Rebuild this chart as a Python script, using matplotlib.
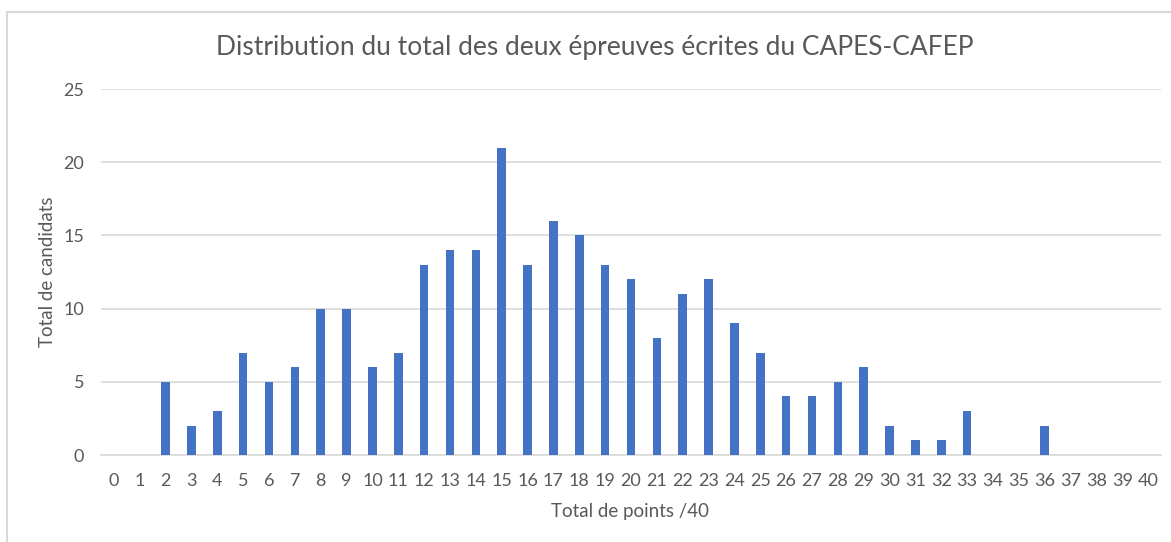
import matplotlib
matplotlib.use("Agg")
import matplotlib.pyplot as plt
from matplotlib.lines import Line2D

points = list(range(0, 41))
candidats = [0, 0, 5, 2, 3, 7, 5, 6, 10, 10,
             6, 7, 13, 14, 14, 21, 13, 16, 15, 13,
             12, 8, 11, 12, 9, 7, 4, 4, 5, 6,
             2, 1, 1, 3, 0, 0, 2, 0, 0, 0, 0]
yticks = [0, 5, 10, 15, 20, 25]
title = "Distribution du total des deux épreuves écrites du CAPES-CAFEP"
xlabel = "Total de points /40"
ylabel = "Total de candidats"

W, H = 1171, 542
plt.rcParams['font.family'] = ['Lato', 'DejaVu Sans']
fig = plt.figure(figsize=(W / 100, H / 100), dpi=100)
fig.patch.set_facecolor("white")

ax = fig.add_axes([101 / W, 1 - 455 / H, (1161 - 101) / W, (455 - 89) / H])
ax.bar(points, candidats, width=0.33, color="#4472C4", zorder=3)
ax.set_xlim(-0.5, 40.5)
ax.set_ylim(0, 25)
ax.set_yticks(yticks)
ax.set_xticks(points)
ax.set_xticklabels([str(p) for p in points])
ax.grid(axis="y", color="#d9d9d9", linewidth=1.2, zorder=0)
for s in ["top", "right", "left"]:
    ax.spines[s].set_visible(False)
ax.spines["bottom"].set_color("#d9d9d9")
ax.spines["bottom"].set_linewidth(1.2)
ax.tick_params(axis="both", length=0, labelsize=13, colors="#595959")
ax.tick_params(axis="x", pad=13)
ax.tick_params(axis="y", pad=12)

fig.text(595 / W, 1 - 47 / H, title, ha="center", va="center",
         fontsize=19, color="#595959")
fig.text(630 / W, 1 - 512 / H, xlabel, ha="center", va="center",
         fontsize=13.5, color="#595959")
fig.text(48 / W, 1 - 272 / H, ylabel, ha="center", va="center",
         fontsize=13.5, color="#595959", rotation=90)

# chart frame (left and top edges visible)
fig.add_artist(Line2D([7 / W, 7 / W], [0, 1 - 12 / H], transform=fig.transFigure,
                      color="#d9d9d9", linewidth=1.5))
fig.add_artist(Line2D([7 / W, 1], [1 - 12 / H, 1 - 12 / H], transform=fig.transFigure,
                      color="#d9d9d9", linewidth=1.5))

fig.savefig("out.png", dpi=100, facecolor="white")
